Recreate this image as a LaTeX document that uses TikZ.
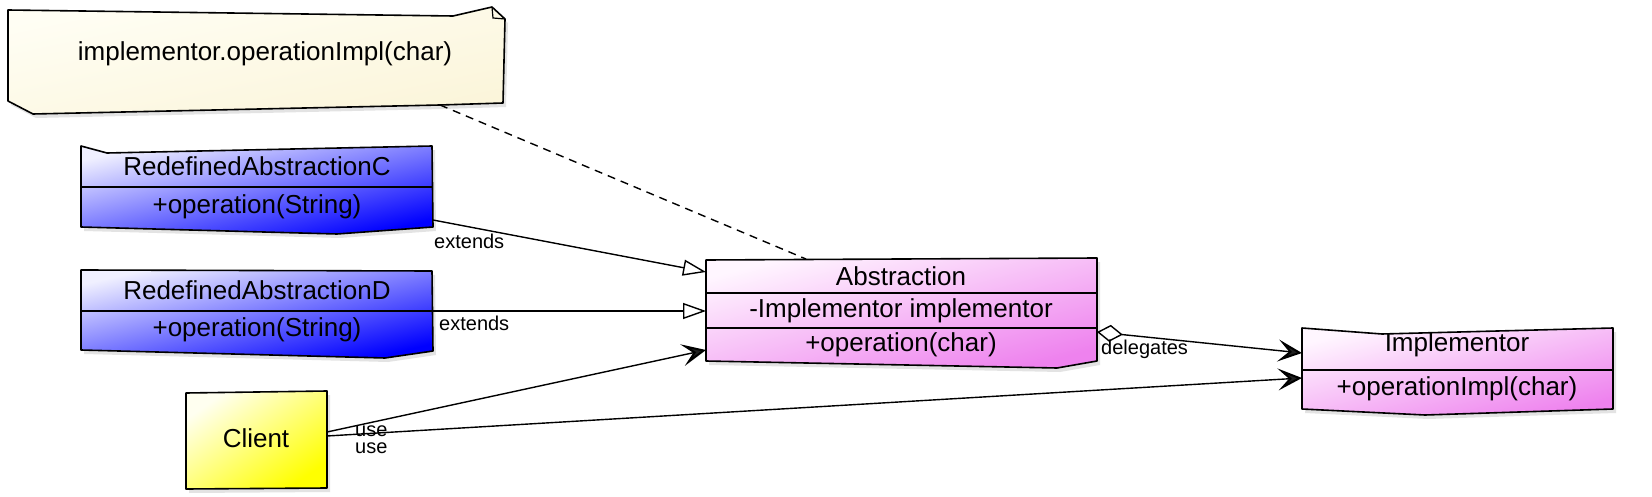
\documentclass[tikz,border=0pt]{standalone}
\usepackage{fontspec}
\setmainfont{Liberation Sans}
\usetikzlibrary{arrows.meta,shadows}
\definecolor{blueA}{HTML}{F0F0FF}
\definecolor{blueB}{HTML}{0000FF}
\definecolor{pinkA}{HTML}{FFF6FF}
\definecolor{pinkB}{HTML}{EE82EE}
\definecolor{yelA}{HTML}{FFFFF0}
\definecolor{yelB}{HTML}{FFFF00}
\definecolor{noteA}{HTML}{FFFEF4}
\definecolor{noteB}{HTML}{FBF5DA}
\definecolor{arrowgray}{HTML}{202020}
\tikzset{
  outl/.style={draw=black, line width=1.6pt, line join=round,
    drop shadow={opacity=0.22, shadow xshift=3pt, shadow yshift=-4pt}},
  bluebox/.style={outl, top color=blueA, bottom color=blueB, shading angle=13},
  pinkbox/.style={outl, top color=pinkA, bottom color=pinkB, shading angle=#1},
  yelbox/.style={outl, top color=yelA, bottom color=yelB, shading angle=35},
  notebox/.style={outl, top color=noteA, bottom color=noteB, shading angle=12},
  divider/.style={draw=black, line width=1.4pt},
  txt/.style={font=\fontsize{26}{30}\selectfont, inner sep=0pt, anchor=center},
  lbl/.style={font=\fontsize{20}{22}\selectfont, inner sep=0pt},
  conn/.style={line width=1.4pt},
  ext/.style={conn, -{Triangle[open, length=23pt, width=16pt, fill=white, line width=1.4pt]}},
  usearrow/.style={conn, -{Stealth[length=24pt, width=22pt, inset=11pt, fill=arrowgray, line width=2pt]}},
  aggarrow/.style={conn, {Diamond[open, length=26pt, width=17pt, fill=white, line width=1.4pt]}-{Stealth[length=24pt, width=22pt, inset=11pt, fill=arrowgray, line width=2pt]}},
  notelink/.style={conn, dash pattern=on 8pt off 6pt}
}
\begin{document}
\begin{tikzpicture}[x=1pt,y=-1pt]
\useasboundingbox[fill=white] (0,0) rectangle (1652,497);

% note
\path[notebox] (8,10) -- (453,16) -- (492,7) -- (505,19) -- (503,103) -- (440,105) -- (33,114) -- (8,101) -- cycle;
\draw[line width=1.2pt] (492,7) -- (493,18) -- (505,19);
\node[txt] (note) at (265,54) {implementor.operationImpl(char)};

% RedefinedAbstractionC
\path[bluebox] (81,146) -- (107,153) -- (432,146) -- (433,227) -- (337,234) -- (81,227) -- cycle;
\draw[divider] (81,187) -- (433,187);
\node[txt] (cName) at (257,166) {RedefinedAbstractionC};
\node[txt] (cOp) at (257,207) {+operation(String)};

% RedefinedAbstractionD
\path[bluebox] (81,270) -- (432,271) -- (433,351) -- (385,358) -- (81,350) -- cycle;
\draw[divider] (81,311) -- (433,311);
\node[txt] (dName) at (257,290) {RedefinedAbstractionD};
\node[txt] (dOp) at (257,330) {+operation(String)};

% Abstraction
\path[pinkbox=15] (706,260) -- (1097,258) -- (1097,361) -- (1057,368) -- (706,361) -- cycle;
\draw[divider] (706,293) -- (1097,293);
\draw[divider] (706,328) -- (1097,328);
\node[txt] (aName) at (901,276) {Abstraction};
\node[txt] (aAttr) at (901,311) {-Implementor implementor};
\node[txt] (aOp) at (901,345) {+operation(char)};

% Implementor
\path[pinkbox=15] (1302,328) -- (1382,334) -- (1613,328) -- (1613,409) -- (1425,415) -- (1302,409) -- cycle;
\draw[divider] (1302,370) -- (1613,370);
\node[txt] (iName) at (1457,345) {Implementor};
\node[txt] (iOp) at (1457,389) {+operationImpl(char)};

% Client
\path[yelbox] (186,393) -- (327,391) -- (327,488) -- (186,489) -- cycle;
\node[txt] (client) at (256,438) {Client};

% connector end points
\coordinate (noteOut) at (440,105);
\coordinate (absTop) at (806,259);
\coordinate (cOut) at (433,220);
\coordinate (absInC) at (706,272);
\coordinate (dOut) at (433,311);
\coordinate (absInD) at (706,311);
\coordinate (clOutA) at (327,432);
\coordinate (absInCl) at (706,350);
\coordinate (clOutI) at (327,436);
\coordinate (impInCl) at (1302,378);
\coordinate (absOut) at (1097,332);
\coordinate (impInA) at (1302,353);

\draw[notelink] (noteOut) -- (absTop);
\draw[ext] (cOut) -- (absInC);
\draw[ext] (dOut) -- (absInD);
\draw[usearrow] (clOutA) -- (absInCl);
\draw[usearrow] (clOutI) -- (impInCl);
\draw[aggarrow] (absOut) -- (impInA);

\node[lbl, anchor=west] (lblC) at (434,241) {extends};
\node[lbl, anchor=west] (lblD) at (439,323) {extends};
\node[lbl, anchor=west] (lblUse1) at (355,431) {use};
\node[lbl, anchor=west] (lblUse2) at (355,448) {use};
\node[lbl, anchor=west] (lblDel) at (1101,349) {delegates};
\end{tikzpicture}
\end{document}
